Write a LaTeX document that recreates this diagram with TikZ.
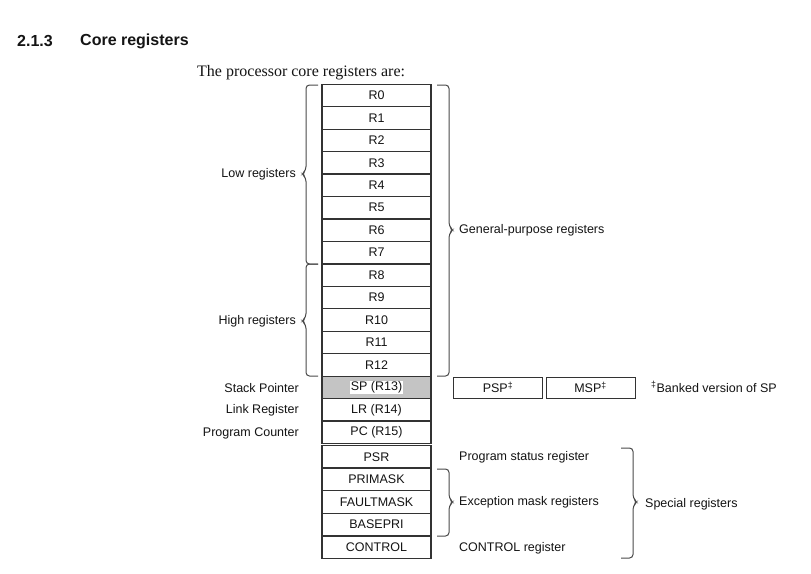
\documentclass[tikz,border=0pt]{standalone}
\usepackage{fontspec}
\setmainfont{Liberation Sans}
\newfontfamily\seriffont{Liberation Serif}
\definecolor{linecol}{HTML}{333333}
\definecolor{txt}{HTML}{141414}
\definecolor{brcol}{HTML}{4A4A4A}
\definecolor{spgray}{HTML}{C4C4C4}
\newcommand\bracel[4]{%
  \draw[brc] (#1,#2) -- ({#1-12},#2) -- ({#1-12},{#4-4}) -- ({#1-16},#4) -- ({#1-12},{#4+4}) -- ({#1-12},#3) -- (#1,#3);}
\newcommand\bracer[4]{%
  \draw[brc] (#1,#2) -- ({#1+12},#2) -- ({#1+12},{#4-4}) -- ({#1+16},#4) -- ({#1+12},{#4+4}) -- ({#1+12},#3) -- (#1,#3);}
\begin{document}
\begin{tikzpicture}[x=1pt,y=-1pt,
  reg/.style={draw=linecol, line width=1.2pt, minimum width=109pt, minimum height=22.5pt, inner sep=0pt, font=\fontsize{12.5}{14}\selectfont, text=txt},
  bank/.style={draw=linecol, line width=1pt, minimum width=89pt, minimum height=21pt, inner sep=0pt, font=\fontsize{12.5}{14}\selectfont, text=txt},
  lbl/.style={font=\fontsize{12.5}{14}\selectfont, text=txt, inner sep=0pt},
  brc/.style={draw=brcol, line width=1pt, rounded corners=3.5pt}]
\useasboundingbox[fill=white] (0,0) rectangle (811,573);
% title
\node[anchor=west, inner sep=0pt, text=txt, font=\bfseries\fontsize{16}{18}\selectfont] (num) at (17,41) {2.1.3};
\node[anchor=west, inner sep=0pt, text=txt, font=\bfseries\fontsize{16}{18}\selectfont] (title) at (80,41) {Core registers};
\node[anchor=west, inner sep=0pt, text=txt, font=\seriffont\fontsize{16}{18}\selectfont] (intro) at (197,73) {The processor core registers are:};
% general registers
\foreach \i in {0,...,12} \node[reg] (r\i) at (376.5,{95.5+22.45*\i}) {R\i};
\node[reg, fill=spgray] (sp) at (376.5,{95.5+22.45*13}) {\setlength{\fboxsep}{0.5pt}\colorbox{white}{SP (R13)}};
\node[reg] (lr) at (376.5,{95.5+22.45*14}) {LR (R14)};
\node[reg] (pc) at (376.5,{95.5+22.45*15}) {PC (R15)};
% special registers
\node[reg] (psr) at (376.5,456.8) {PSR};
\node[reg] (primask) at (376.5,479.4) {PRIMASK};
\node[reg] (faultmask) at (376.5,502) {FAULTMASK};
\node[reg] (basepri) at (376.5,524.6) {BASEPRI};
\node[reg] (control) at (376.5,547.2) {CONTROL};
% banked SP
\node[bank] (psp) at (498,387.5) {PSP\textsuperscript{‡}};
\node[bank] (msp) at (590.5,387.5) {MSP\textsuperscript{‡}};
\node[lbl, anchor=west] (bnote) at (651,387) {\textsuperscript{‡}Banked version of SP};
% left labels
\node[lbl, anchor=east] (low) at (296,174) {Low registers};
\node[lbl, anchor=east] (high) at (296,321) {High registers};
\node[lbl, anchor=east] (spl) at (299,388) {Stack Pointer};
\node[lbl, anchor=east] (lrl) at (299,410) {Link Register};
\node[lbl, anchor=east] (pcl) at (299,433) {Program Counter};
% right labels
\node[lbl, anchor=west] (gpr) at (459,230) {General-purpose registers};
\node[lbl, anchor=west] (psrl) at (459,457) {Program status register};
\node[lbl, anchor=west] (excl) at (459,502) {Exception mask registers};
\node[lbl, anchor=west] (ctrll) at (459,548) {CONTROL register};
\node[lbl, anchor=west] (spec) at (645,504) {Special registers};
% braces
\bracel{318}{85}{264}{174}
\bracel{318}{264}{376}{321}
\bracer{437}{85}{376}{230}
\bracer{437}{469}{536}{502}
\bracer{621}{448}{558}{502}
\end{tikzpicture}
\end{document}
